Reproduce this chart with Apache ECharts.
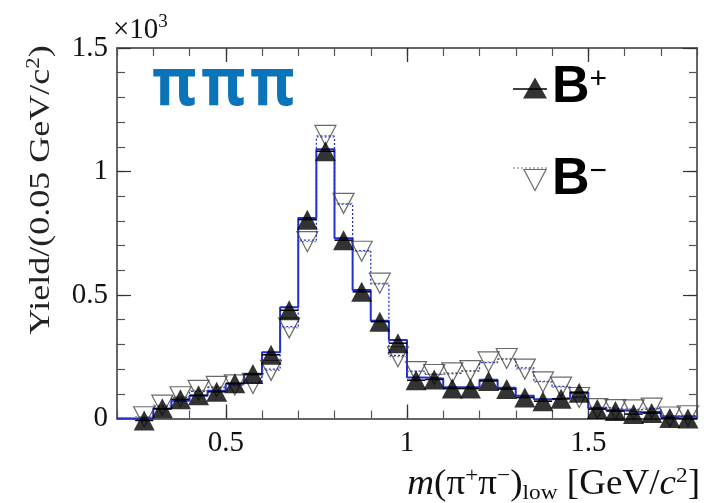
<!DOCTYPE html>
<html>
<head>
<meta charset="utf-8">
<script src="https://cdn.jsdelivr.net/npm/echarts@6/dist/echarts.min.js"></script>
<style>html,body{margin:0;padding:0;background:#fff}#c{width:704px;height:503px}</style>
</head>
<body>
<div id="c"></div>
<script>
// Bin centres of m(pi+pi-)_low [GeV/c^2], bin width 0.05
const binCenters = [0.225,0.275,0.325,0.375,0.425,0.475,0.525,0.575,0.625,0.675,0.725,0.775,0.825,0.875,0.925,0.975,
  1.025,1.075,1.125,1.175,1.225,1.275,1.325,1.375,1.425,1.475,1.525,1.575,1.625,1.675,1.725,1.775];
const binWidth = 0.05;
// B+ yields (filled up triangles)
const yieldBplus = [null,-8,41,78,94,108,143,180,258,438,805,1082,722,513,392,305,
  155,158,121,121,152,119,85,70,80,104,38,30,18,22,2,0];
// B- yields (open down triangles)
const yieldBminus = [null,7,54,88,114,130,136,142,195,367,716,1146,871,677,548,250,
  190,178,185,194,229,243,200,148,127,85,40,36,35,42,6,11];
// Fit model for B+ (solid blue histogram)
const modelBplus = [0,0,38,72,92,112,140,178,268,450,812,1090,730,520,396,318,
  166,162,127,128,157,125,92,78,82,106,42,33,25,27,8,8];
// Fit model for B- (dotted blue histogram)
const modelBminus = [0,5,50,85,110,125,135,145,200,372,722,1140,868,680,545,255,
  192,180,183,192,226,240,205,150,130,88,45,38,36,40,10,12];
const xTickLabels = [0.5, 1, 1.5];
const yTickLabels = [0, 500, 1000, 1500];

function stepData(vals){
  const out=[];
  binCenters.forEach((c,i)=>{ out.push([c-binWidth/2, vals[i]]); out.push([c+binWidth/2, vals[i]]); });
  return out;
}
function pointData(vals){
  return binCenters.map((c,i)=> vals[i]==null ? null : [c, vals[i]]).filter(d=>d);
}
function errBar(style){
  return function(params, api){
    const v = api.value(1), c = api.value(0);
    const p1 = api.coord([c-binWidth/2, v]), p2 = api.coord([c+binWidth/2, v]);
    return {type:'line', shape:{x1:p1[0],y1:p1[1],x2:p2[0],y2:p2[1]}, style:style};
  };
}
const serif = 'Liberation Serif';
const near = (v,arr)=>arr.some(t=>Math.abs(v-t)<1e-6);

const axisColor = '#333';
function xAx(pos, major, showLabel){
  return {
    type:'value', position:pos, min:0.2, max:1.8, interval:0.1,
    axisLine:{show:!major, onZero:false, lineStyle:{color:axisColor, width:1.5}},
    axisTick: major ? {inside:true, length:14, customValues:xTickLabels, lineStyle:{color:axisColor,width:1.3}}
                    : {inside:true, length:8, lineStyle:{color:'#555',width:1.2}},
    axisLabel: showLabel ? {show:true, margin:10, fontFamily:serif, fontSize:29, color:'#111',
                 formatter:v=> near(v,xTickLabels) ? String(+v.toFixed(2)) : ''} : {show:false},
    splitLine:{show:false}
  };
}
function yAx(pos, major, showLabel){
  return {
    type:'value', position:pos, min:0, max:1500, interval: major?500:100,
    axisLine:{show:!major, onZero:false, lineStyle:{color:axisColor, width:1.5}},
    axisTick: {inside:true, length: major?14:8, lineStyle:{color: major?axisColor:'#555', width:1.2}},
    axisLabel: showLabel ? {show:true, margin:9, fontFamily:serif, fontSize:29, color:'#111',
                 formatter:v=> near(v,yTickLabels) ? String(v/1000) : ''} : {show:false},
    splitLine:{show:false}
  };
}

const chart = echarts.init(document.getElementById('c'), null, {renderer:'canvas'});
const blue = '#2430d0';
chart.setOption({
  animation:false,
  backgroundColor:'#fff',
  grid:{left:117, top:48, width:580, height:370.5, containLabel:false},
  xAxis:[xAx('bottom',false,true), xAx('bottom',true,false), xAx('top',false,false), xAx('top',true,false)],
  yAxis:[yAx('left',false,true), yAx('left',true,false), yAx('right',false,false), yAx('right',true,false)],
  legend:{
    orient:'vertical', left:518, top:57, itemWidth:24, itemHeight:21, itemGap:27,
    selectedMode:false,
    data:[
      {name:'B+', icon:'triangle', itemStyle:{color:'#000'}},
      {name:'B-', icon:'path://M0,0 L20,0 L10,19 Z', itemStyle:{color:'rgba(0,0,0,0)', borderColor:'#444', borderWidth:1.2}}
    ],
    formatter: n => n==='B+' ? '{b|B}{s|+}' : '{b|B}{s|−}',
    textStyle:{ rich:{
      b:{fontFamily:'Liberation Sans', fontWeight:'bold', fontSize:52, color:'#000', lineHeight:46},
      s:{fontFamily:'Liberation Sans', fontSize:30, color:'#000', verticalAlign:'top', lineHeight:46, padding:[0,0,32,0]}
    }}
  },
  series:[
    {type:'line', name:'modelMinus', data:stepData(modelBminus), showSymbol:false, symbol:'none',
      lineStyle:{color:blue, width:1.3, type:[2,2]}, z:2, silent:true},
    {type:'line', name:'modelPlus', data:stepData(modelBplus), showSymbol:false, symbol:'none',
      lineStyle:{color:blue, width:2}, z:3, silent:true},
    {type:'custom', name:'errMinus', data:pointData(yieldBminus), renderItem:errBar({stroke:'#777', lineWidth:1, lineDash:[2,2]}), z:4, clip:false},
    {type:'scatter', name:'B-', data:pointData(yieldBminus), symbol:'path://M0,0 L20,0 L10,19 Z', symbolSize:[21,20],
      itemStyle:{color:'rgba(0,0,0,0)', borderColor:'#444', borderWidth:1.2}, z:5, clip:false},
    {type:'custom', name:'errPlus', data:pointData(yieldBplus), renderItem:errBar({stroke:'#000', lineWidth:1.5}), z:6, clip:false},
    {type:'scatter', name:'B+', data:pointData(yieldBplus), symbol:'triangle', symbolSize:[21,20],
      itemStyle:{color:'#000'}, z:7, clip:false}
  ],
  graphic:[
    {type:'text', left:113, top:13, style:{text:'×10{s|3}', fontFamily:serif, fontSize:29, fill:'#111',
      rich:{s:{fontFamily:serif, fontSize:19, fill:'#111', verticalAlign:'top', padding:[0,0,15,0]}}}},
    {type:'group', left:152, top:52, children:[
      {type:'text', x:0, y:0, scaleY:1.12, style:{text:'π', fontFamily:'Noto Sans', fontWeight:'bold', fontSize:60, fill:'#0b73b7'}},
      {type:'text', x:49, y:0, scaleY:1.12, style:{text:'π', fontFamily:'Noto Sans', fontWeight:'bold', fontSize:60, fill:'#0b73b7'}},
      {type:'text', x:98, y:0, scaleY:1.12, style:{text:'π', fontFamily:'Noto Sans', fontWeight:'bold', fontSize:60, fill:'#0b73b7'}}
    ]},
    {type:'text', x:41, y:190, rotation:Math.PI/2, scaleX:1.2, style:{text:'Yield/(0.05 GeV/c{s|2})', fontFamily:serif, fontSize:30, fill:'#222',
      align:'center', verticalAlign:'middle', rich:{s:{fontFamily:serif, fontSize:19, fill:'#222', verticalAlign:'top', padding:[0,0,13,0]}}}},
    {type:'text', x:700, y:465, scaleX:1.06, style:{text:'{i|m}(π{s|+}π{s|−}){d|low} [GeV/{i|c}{s|2}]', fontFamily:serif, fontSize:35, fill:'#111',
      align:'right',
      rich:{i:{fontFamily:serif, fontStyle:'italic', fontSize:35, fill:'#111'},
            s:{fontFamily:serif, fontSize:22, fill:'#111', verticalAlign:'top', padding:[0,0,17,0]},
            d:{fontFamily:serif, fontSize:22, fill:'#111', verticalAlign:'bottom', padding:[17,0,0,0]}}}},
    {type:'line', shape:{x1:513, y1:89, x2:547, y2:89}, style:{stroke:'#000', lineWidth:1.5}, z:1},
    {type:'line', shape:{x1:513, y1:168, x2:547, y2:168}, style:{stroke:'#777', lineWidth:1, lineDash:[2,2]}, z:1}
  ]
});
</script>
</body>
</html>
